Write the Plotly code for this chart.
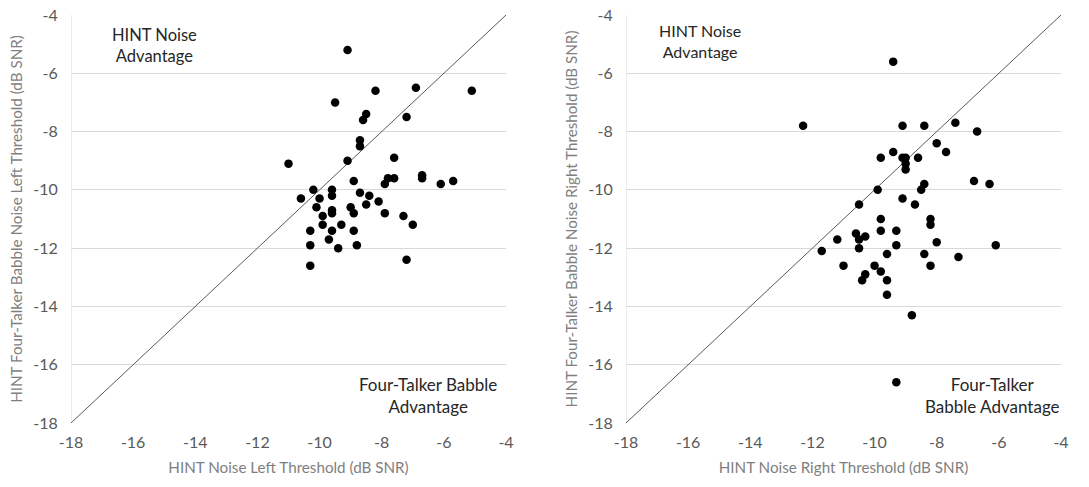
import plotly.graph_objects as go

# Left panel data
left_x = [-9.1, -8.2, -6.9, -5.1, -9.5, -8.5, -8.6, -7.2, -8.7, -8.7,
          -11.0, -9.1, -7.6, -8.9, -7.8, -7.6, -7.9, -6.7, -6.7, -6.1,
          -5.7, -10.2, -9.6, -9.6, -10.6, -10.0, -8.7, -8.4, -10.1, -9.0,
          -8.5, -8.1, -9.9, -9.6, -9.6, -8.9, -7.9, -7.3, -9.9, -9.3,
          -7.0, -10.3, -9.6, -8.9, -9.7, -10.3, -9.4, -8.8, -7.2, -10.3]
left_y = [-5.2, -6.6, -6.5, -6.6, -7.0, -7.4, -7.6, -7.5, -8.3, -8.5,
          -9.1, -9.0, -8.9, -9.7, -9.6, -9.6, -9.8, -9.5, -9.6, -9.8,
          -9.7, -10.0, -10.0, -10.2, -10.3, -10.3, -10.1, -10.2, -10.6, -10.6,
          -10.5, -10.4, -10.9, -10.7, -10.8, -10.8, -10.8, -10.9, -11.2, -11.2,
          -11.2, -11.4, -11.4, -11.4, -11.7, -11.9, -12.0, -11.9, -12.4, -12.6]

# Right panel data
right_x = [-9.4, -12.3, -9.1, -8.4, -7.4, -6.7, -8.0, -7.7, -9.4, -9.8,
           -9.1, -9.0, -8.6, -9.0, -9.0, -6.8, -6.3, -8.4, -8.5, -9.9,
           -9.1, -10.5, -8.7, -9.8, -8.2, -8.2, -9.8, -9.3, -10.6, -10.5,
           -10.3, -11.2, -10.5, -9.3, -8.0, -6.1, -11.7, -9.6, -8.4, -7.3,
           -11.0, -10.0, -8.2, -9.8, -10.3, -10.4, -9.6, -9.6, -8.8, -9.3]
right_y = [-5.6, -7.8, -7.8, -7.8, -7.7, -8.0, -8.4, -8.7, -8.7, -8.9,
           -8.9, -8.9, -8.9, -9.1, -9.3, -9.7, -9.8, -9.8, -10.0, -10.0,
           -10.3, -10.5, -10.5, -11.0, -11.0, -11.2, -11.4, -11.4, -11.5, -11.7,
           -11.6, -11.7, -12.0, -11.9, -11.8, -11.9, -12.1, -12.2, -12.2, -12.3,
           -12.6, -12.6, -12.6, -12.8, -12.9, -13.1, -13.1, -13.6, -14.3, -16.6]

axis_range = [-18, -4]
tick_vals = [-18, -16, -14, -12, -10, -8, -6, -4]
tick_text = ["-18", "-16", "-14", "-12", "-10", "-8", "-6", "-4"]

x_title_left = "HINT Noise Left Threshold (dB SNR)"
y_title_left = "HINT Four-Talker Babble Noise Left Threshold (dB SNR)"
x_title_right = "HINT Noise Right Threshold (dB SNR)"
y_title_right = "HINT Four-Talker Babble Noise Right Threshold (dB SNR)"

FONT = "Lato"
marker = dict(color="black", size=8.5)
line_style = dict(color="#595959", width=1)

fig = go.Figure()
fig.add_trace(go.Scatter(x=axis_range, y=axis_range, mode="lines", line=line_style,
                         xaxis="x", yaxis="y", showlegend=False, hoverinfo="skip"))
fig.add_trace(go.Scatter(x=left_x, y=left_y, mode="markers", marker=marker,
                         xaxis="x", yaxis="y", showlegend=False))
fig.add_trace(go.Scatter(x=axis_range, y=axis_range, mode="lines", line=line_style,
                         xaxis="x2", yaxis="y2", showlegend=False, hoverinfo="skip"))
fig.add_trace(go.Scatter(x=right_x, y=right_y, mode="markers", marker=marker,
                         xaxis="x2", yaxis="y2", showlegend=False))

tickfont = dict(family=FONT, size=16, color="#595959")
titlefont = dict(family=FONT, size=15.2, color="#7f7f7f")

def xax(domain, anchor, title):
    return dict(domain=domain, anchor=anchor, range=axis_range, tickvals=tick_vals,
                ticktext=tick_text, showgrid=False, zeroline=False, showline=False,
                automargin=False,
                tickfont=tickfont, ticks="outside", ticklen=5, tickcolor="rgba(0,0,0,0)",
                title=dict(text=title, font=titlefont, standoff=12), fixedrange=True)

def yax(domain, anchor, title):
    return dict(domain=domain, anchor=anchor, range=axis_range, tickvals=tick_vals,
                ticktext=tick_text, showgrid=True, gridcolor="#d9d9d9", gridwidth=1,
                zeroline=False, showline=False, tickfont=tickfont, automargin=False,
                ticks="outside", ticklen=9, tickcolor="rgba(0,0,0,0)",
                title=dict(text=title, font=titlefont, standoff=6), fixedrange=True)

ydom = [1 - 423 / 487, 1 - 15 / 487]
fig.update_layout(
    width=1089, height=487,
    margin=dict(l=0, r=0, t=0, b=0, autoexpand=False),
    paper_bgcolor="white", plot_bgcolor="white",
    xaxis=xax([71 / 1089, 506 / 1089], "y", x_title_left),
    yaxis=yax(ydom, "x", y_title_left),
    xaxis2=xax([626 / 1089, 1061 / 1089], "y2", x_title_right),
    yaxis2=yax(ydom, "x2", y_title_right),
)

# Left axis line (vertical) for each panel
for xr, yr in (("x", "y"), ("x2", "y2")):
    fig.add_shape(type="line", xref=xr, yref=yr, x0=-18, x1=-18, y0=-18, y1=-4,
                  line=dict(color="#d9d9d9", width=1), layer="below")

top_font_l = dict(family=FONT, size=16.5, color="#262626")
top_font_r = dict(family=FONT, size=16, color="#262626")
bot_font = dict(family=FONT, size=17, color="#262626")
fig.add_annotation(xref="x", yref="y", x=-15.3, y=-5.03, text="HINT Noise<br>Advantage",
                   showarrow=False, align="center", font=top_font_l)
fig.add_annotation(xref="x", yref="y", x=-6.51, y=-17.04, text="Four-Talker Babble<br>Advantage",
                   showarrow=False, align="center", font=bot_font)
fig.add_annotation(xref="x2", yref="y2", x=-15.62, y=-4.89, text="HINT Noise<br>Advantage",
                   showarrow=False, align="center", font=top_font_r)
fig.add_annotation(xref="x2", yref="y2", x=-6.22, y=-17.07, text="Four-Talker<br>Babble Advantage",
                   showarrow=False, align="center", font=bot_font)

fig.write_html("out.html")
